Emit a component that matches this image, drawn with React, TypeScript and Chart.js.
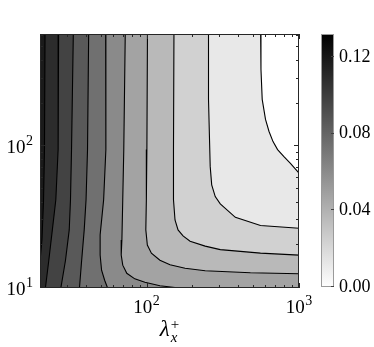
import React, { useEffect, useRef } from 'react';
import { Chart, registerables } from 'chart.js';

Chart.register(...registerables);

type Pt = [number, number];

// ---- axes ----
const X_MIN = 20;
const X_MAX = 1000;
const Y_MIN = 10;
const Y_MAX = 620;
const xMajor = [100, 1000];
const xTickExp = ['2', '3'];
const yMajor = [10, 100];
const yTickExp = ['1', '2'];
const tickBase = '10';
const cbTicks = [0, 0.04, 0.08, 0.12];
const cbMax = 0.132;

// ---- contour lines (x = λx+, y), from the highest level (left) to the lowest (top right) ----
const contour1: Pt[] = [[21.6, 800], [21.4, 94.8], [21.1, 41.9], [20.6, 21.8], [20.0, 15.5], [19.6, 13]];
const contour2: Pt[] = [[26.5, 800], [26.3, 94.8], [25.4, 41.9], [24.1, 25.7], [22.85, 15.7], [21.7, 10], [21.6, 9.5]];
const contour3: Pt[] = [[33.2, 800], [32.2, 94.8], [31.7, 41.9], [31.1, 25.7], [29.4, 15.7], [27.4, 10], [27.3, 9.5]];
const contour4: Pt[] = [[41.8, 800], [41.0, 94.8], [40.1, 41.9], [39.0, 25.7], [37.4, 15.0], [36.3, 10], [36.2, 9.5]];
const contour5: Pt[] = [[53.9, 800], [54.1, 94.8], [52.3, 41.9], [49.6, 23.7], [49.6, 17.1], [50.7, 13.35], [53.1, 11.34], [55.5, 10], [55.9, 9.5]];
const contour6: Pt[] = [[72.7, 800], [70.9, 94.8], [69.8, 41.9], [68.9, 21.8], [68.2, 17.1], [69.8, 14.5], [74.2, 12.7], [83.7, 11.6], [97.5, 10.97], [122.4, 10.36], [153.7, 10.08], [181.6, 9.87], [200, 9.8]];
const contour7: Pt[] = [[101.5, 800], [100.5, 94.8], [99.7, 41.9], [98.9, 25.7], [101.2, 20.1], [107.6, 17.6], [122.4, 15.7], [142.5, 14.6], [178.9, 13.8], [242.4, 13.24], [480, 12.82], [1000, 12.61], [1200, 12.6]];
const contour8: Pt[] = [[151.4, 800], [150.2, 94.8], [150.2, 41.9], [153.7, 30.2], [160.9, 25.7], [173.5, 23.3], [193, 21.4], [242.4, 19.75], [304.5, 18.66], [559, 17.63], [1000, 17.06], [1200, 17.0]];
const contour9: Pt[] = [[254.9, 800], [254.9, 214.4], [261.5, 72.15], [267.5, 53.5], [282.2, 44.2], [304.5, 39.2], [382.4, 31.5], [559, 27.6], [1000, 26.4], [1200, 26.3]];
const contour10: Pt[] = [[559, 800], [563, 350], [573.6, 214.4], [603, 154.7], [636, 127.2], [675.5, 107.9], [723.6, 94.8], [796.4, 84.5], [881.6, 75.4], [1000, 64.75], [1200, 52]];

const contours = [contour1, contour2, contour3, contour4, contour5, contour6, contour7, contour8, contour9, contour10];
// grey level of the band on the high side of each contour
const bandGray = [26, 44, 67, 89, 112, 138, 163, 185, 209, 232];

const FONT = "'Liberation Serif', 'Times New Roman', serif";

function closeShape(pts: Pt[]) {
  const LO = 5;
  const HI = 2000;
  const out = pts.map(([x, y]) => ({ x, y }));
  const [xe, ye] = pts[pts.length - 1];
  if (xe > X_MAX) {
    out.push({ x: HI, y: ye }, { x: HI, y: LO }, { x: LO, y: LO }, { x: LO, y: HI });
  } else if (ye < Y_MIN) {
    out.push({ x: xe, y: LO }, { x: LO, y: LO }, { x: LO, y: HI });
  } else {
    out.push({ x: LO, y: ye }, { x: LO, y: HI });
  }
  return out;
}

function logMinor(min: number, max: number) {
  const out: number[] = [];
  for (let e = Math.floor(Math.log10(min)); e <= Math.ceil(Math.log10(max)); e++) {
    for (let m = 1; m < 10; m++) {
      const v = m * Math.pow(10, e);
      if (v >= min - 1e-9 && v <= max + 1e-9) out.push(v);
    }
  }
  return out;
}

const BASE_FONT = `19px ${FONT}`;
const EXP_FONT = `14px ${FONT}`;

function drawPow(ctx: CanvasRenderingContext2D, exp: string, x: number, baseline: number, align: 'center' | 'right') {
  ctx.font = BASE_FONT;
  const w1 = ctx.measureText(tickBase).width;
  ctx.font = EXP_FONT;
  const w2 = ctx.measureText(exp).width;
  const total = w1 + 0.5 + w2;
  const x0 = align === 'center' ? x - total / 2 : x - total;
  ctx.textAlign = 'left';
  ctx.textBaseline = 'alphabetic';
  ctx.font = BASE_FONT;
  ctx.fillText(tickBase, x0, baseline);
  ctx.font = EXP_FONT;
  ctx.fillText(exp, x0 + w1 + 0.5, baseline - 8);
}

const framePlugin = {
  id: 'frame',
  afterDatasetsDraw(chart: any) {
    const { ctx, chartArea: a, scales } = chart;
    const xs = scales.x;
    const ys = scales.y;
    ctx.save();
    ctx.strokeStyle = '#262626';
    ctx.lineWidth = 1;
    ctx.beginPath();
    for (const v of logMinor(X_MIN, X_MAX)) {
      const major = xMajor.includes(v);
      const len = major ? 5 : 3;
      const p = Math.round(xs.getPixelForValue(v)) + 0.5;
      ctx.moveTo(p, a.bottom);
      ctx.lineTo(p, a.bottom - len);
      ctx.moveTo(p, a.top);
      ctx.lineTo(p, a.top + len);
    }
    for (const v of logMinor(Y_MIN, Y_MAX)) {
      const major = yMajor.includes(v);
      const len = major ? 5 : 3;
      const p = Math.round(ys.getPixelForValue(v)) - 0.5;
      ctx.moveTo(a.left, p);
      ctx.lineTo(a.left + len, p);
      ctx.moveTo(a.right, p);
      ctx.lineTo(a.right - len, p);
    }
    ctx.stroke();
    ctx.strokeRect(a.left + 0.5, a.top + 0.5, a.right - a.left - 1, a.bottom - a.top - 1);

    // tick labels 10^n
    ctx.fillStyle = '#000';
    xMajor.forEach((v, i) => {
      drawPow(ctx, xTickExp[i], xs.getPixelForValue(v), a.bottom + 25, 'center');
    });
    yMajor.forEach((v, i) => {
      drawPow(ctx, yTickExp[i], a.left - 7, ys.getPixelForValue(v) + 6.5, 'right');
    });
    ctx.restore();
  },
};

const cbFramePlugin = {
  id: 'cbframe',
  afterDatasetsDraw(chart: any) {
    const { ctx, chartArea: a, scales } = chart;
    ctx.save();
    ctx.strokeStyle = '#9a9a9a';
    ctx.lineWidth = 1;
    ctx.strokeRect(a.left + 0.5, a.top + 0.5, a.right - a.left - 1, a.bottom - a.top - 1);
    ctx.strokeStyle = '#404040';
    ctx.beginPath();
    for (const v of cbTicks) {
      const p = Math.round(scales.y.getPixelForValue(v)) - 0.5;
      ctx.moveTo(a.right, p);
      ctx.lineTo(a.right - 3, p);
    }
    ctx.stroke();
    ctx.restore();
  },
};

export default function App() {
  const mainRef = useRef<HTMLCanvasElement>(null);
  const cbRef = useRef<HTMLCanvasElement>(null);

  useEffect(() => {
    const fills = contours.map((c, i) => ({
      data: closeShape(c),
      fill: 'shape',
      backgroundColor: `rgb(${bandGray[i]},${bandGray[i]},${bandGray[i]})`,
      borderWidth: 0,
      pointRadius: 0,
      tension: 0,
      order: i + 1,
    }));
    const lines = contours.map((c) => ({
      data: c.map(([x, y]) => ({ x, y })),
      fill: false,
      borderColor: '#000',
      borderWidth: 1.1,
      pointRadius: 0,
      tension: 0,
      order: 0,
    }));

    const main = new Chart(mainRef.current as HTMLCanvasElement, {
      type: 'line',
      data: { datasets: [...lines, ...fills] as any },
      options: {
        responsive: false,
        animation: false,
        devicePixelRatio: 1,
        layout: { padding: { left: 0, top: 34, right: 75, bottom: 0 } },
        plugins: { legend: { display: false }, tooltip: { enabled: false } },
        scales: {
          x: {
            type: 'logarithmic',
            min: X_MIN,
            max: X_MAX,
            grid: { display: false, drawTicks: false },
            border: { display: false },
            afterBuildTicks: (s: any) => {
              s.ticks = xMajor.map((v) => ({ value: v }));
            },
            afterFit: (s: any) => {
              s.height = 59;
            },
            ticks: { display: false },
          },
          y: {
            type: 'logarithmic',
            min: Y_MIN,
            max: Y_MAX,
            grid: { display: false, drawTicks: false },
            border: { display: false },
            afterBuildTicks: (s: any) => {
              s.ticks = yMajor.map((v) => ({ value: v }));
            },
            afterFit: (s: any) => {
              s.width = 40;
            },
            ticks: { display: false },
          },
        },
      } as any,
      plugins: [framePlugin],
    });

    const cb = new Chart(cbRef.current as HTMLCanvasElement, {
      type: 'bar',
      data: {
        labels: [''],
        datasets: [
          {
            data: [cbMax],
            borderWidth: 0,
            barPercentage: 1,
            categoryPercentage: 1,
            backgroundColor: (ctx: any) => {
              const { chart } = ctx;
              const a = chart.chartArea;
              if (!a) return '#888';
              const g = chart.ctx.createLinearGradient(0, a.bottom, 0, a.top);
              g.addColorStop(0, '#ffffff');
              g.addColorStop(1, '#000000');
              return g;
            },
          },
        ],
      },
      options: {
        responsive: false,
        animation: false,
        devicePixelRatio: 1,
        layout: { padding: { left: 3, top: 34, right: 0, bottom: 60 } },
        plugins: { legend: { display: false }, tooltip: { enabled: false } },
        scales: {
          x: { display: false },
          y: {
            position: 'right',
            min: 0,
            max: cbMax,
            grid: { display: false, drawTicks: false },
            border: { display: false },
            afterBuildTicks: (s: any) => {
              s.ticks = cbTicks.map((v) => ({ value: v }));
            },
            afterFit: (s: any) => {
              s.width = 40;
            },
            ticks: {
              padding: 5,
              color: '#000',
              font: { family: FONT, size: 18 },
              callback: (v: any) => Number(v).toFixed(2),
            },
          },
        },
      } as any,
      plugins: [cbFramePlugin],
    });

    return () => {
      main.destroy();
      cb.destroy();
    };
  }, []);

  return (
    <div style={{ position: 'absolute', left: 0, top: 0, width: 374, height: 347, background: '#fff', overflow: 'hidden' }}>
      <canvas ref={mainRef} width={374} height={347} style={{ position: 'absolute', left: 0, top: 0, width: 374, height: 347 }} />
      <canvas ref={cbRef} width={56} height={347} style={{ position: 'absolute', left: 318, top: 0, width: 56, height: 347 }} />
      <div
        style={{
          position: 'absolute',
          left: 0,
          top: 318,
          width: 339,
          textAlign: 'center',
          fontFamily: FONT,
          fontSize: 23,
          lineHeight: '22px',
          color: '#000',
          whiteSpace: 'nowrap',
        }}
      >
        <span style={{ fontStyle: 'italic' }}>λ</span>
        <span
          style={{
            display: 'inline-block',
            verticalAlign: 'middle',
            fontSize: 15,
            lineHeight: '13px',
            textAlign: 'left',
            marginLeft: 1,
          }}
        >
          <span style={{ display: 'block' }}>+</span>
          <span style={{ display: 'block', fontStyle: 'italic' }}>x</span>
        </span>
      </div>
    </div>
  );
}
